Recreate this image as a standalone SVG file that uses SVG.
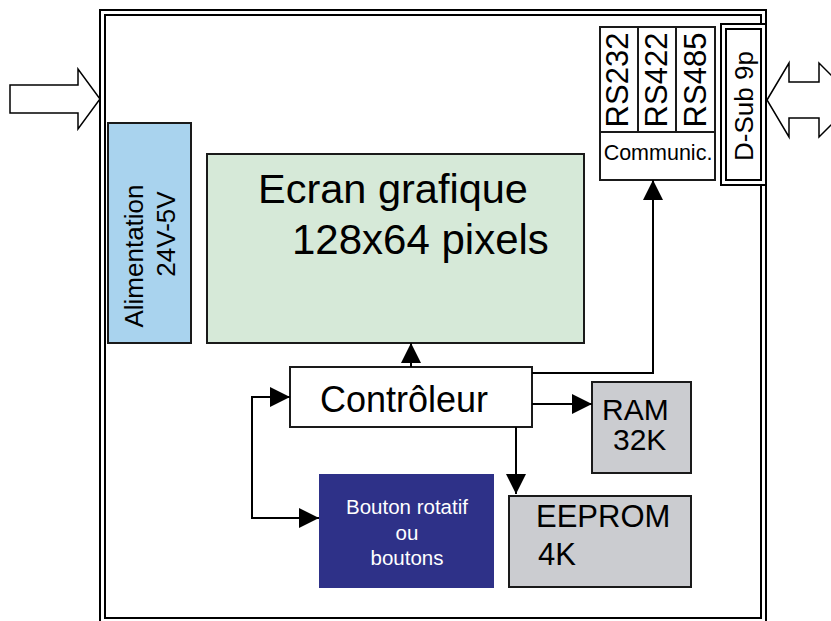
<svg xmlns="http://www.w3.org/2000/svg" width="831" height="621" viewBox="0 0 831 621">
  <defs>
    <marker id="tri" viewBox="0 0 20 20" refX="20" refY="10" markerWidth="20" markerHeight="20" markerUnits="userSpaceOnUse" orient="auto-start-reverse">
      <path d="M0,0 L20,10 L0,20 Z" fill="#000"/>
    </marker>
    <style>
      text { font-family: "Liberation Sans", Arial, sans-serif; fill: #000; }
      .box { stroke: #1a1a1a; stroke-width: 2; }
      .frame { fill: none; stroke: #000; stroke-width: 2; }
      .wire { fill: none; stroke: #000; stroke-width: 2; marker-end: url(#tri); }
      .block { fill: #fff; stroke: #000; stroke-width: 1.5; }
    </style>
  </defs>

  <rect width="831" height="621" fill="#fff"/>

  <!-- enclosure: double outline -->
  <g id="enclosure">
    <rect class="frame" x="100" y="10" width="666" height="612"/>
    <rect class="frame" x="105" y="15" width="656" height="603"/>
  </g>

  <!-- power input -->
  <g id="power-in">
    <polygon class="block" points="10,85 78,85 78,69 100,99 78,129 78,113 10,113"/>
  </g>

  <!-- serial link to the outside -->
  <g id="serial-io">
    <polygon class="block" points="767,100 789,63 789,82 819,82 819,63 856,100 819,137 819,118 789,118 789,137"/>
  </g>

  <g id="alimentation">
    <rect class="box" x="108" y="123" width="83" height="220" fill="#a9d3ee"/>
    <text transform="translate(143,256) rotate(-90)" font-size="26" text-anchor="middle">Alimentation</text>
    <text transform="translate(175,234) rotate(-90)" font-size="26" text-anchor="middle">24V-5V</text>
  </g>

  <g id="ecran">
    <rect class="box" x="207" y="154" width="377" height="189" fill="#d6e9d8"/>
    <text x="258" y="203" font-size="41.5">Ecran grafique</text>
    <text x="292" y="254" font-size="42">128x64 pixels</text>
  </g>

  <g id="communic">
    <rect class="box" x="600" y="27" width="38" height="105" fill="#fff"/>
    <rect class="box" x="638" y="27" width="38" height="105" fill="#fff"/>
    <rect class="box" x="676" y="27" width="39" height="105" fill="#fff"/>
    <rect class="box" x="600" y="132" width="115" height="48" fill="#fff"/>
    <text transform="translate(628,80) rotate(-90)" font-size="31" text-anchor="middle">RS232</text>
    <text transform="translate(667,80) rotate(-90)" font-size="31" text-anchor="middle">RS422</text>
    <text transform="translate(706,80) rotate(-90)" font-size="31" text-anchor="middle">RS485</text>
    <text x="658" y="160" font-size="21.5" text-anchor="middle">Communic.</text>
  </g>

  <g id="dsub">
    <rect x="721" y="24" width="45" height="161" fill="#fff" stroke="#000" stroke-width="2"/>
    <rect x="726" y="29" width="35" height="151" fill="#fff" stroke="#000" stroke-width="2"/>
    <text transform="translate(753,106) rotate(-90)" font-size="26" text-anchor="middle">D-Sub 9p</text>
  </g>

  <g id="controleur">
    <rect class="box" x="290" y="367" width="242" height="60" fill="#fff"/>
    <text x="320" y="412" font-size="36">Contrôleur</text>
  </g>

  <g id="ram">
    <rect class="box" x="592" y="382" width="99" height="91" fill="#cbccd0"/>
    <text x="602" y="420" font-size="30">RAM</text>
    <text x="613" y="450" font-size="30">32K</text>
  </g>

  <g id="eeprom">
    <rect class="box" x="509" y="496" width="182" height="91" fill="#cbccd0"/>
    <text x="536" y="527" font-size="31">EEPROM</text>
    <text x="538" y="565" font-size="31">4K</text>
  </g>

  <g id="boutons">
    <rect x="319" y="474" width="175" height="114" fill="#2e3188"/>
    <text x="407" y="514" font-size="20.5" text-anchor="middle" style="fill:#fff">Bouton rotatif</text>
    <text x="407" y="540" font-size="20.5" text-anchor="middle" style="fill:#fff">ou</text>
    <text x="407" y="565" font-size="20.5" text-anchor="middle" style="fill:#fff">boutons</text>
  </g>

  <!-- links from the controller -->
  <g id="connectors">
    <path class="wire" d="M411,367 V343"/>
    <path class="wire" d="M532,373 H653 V180"/>
    <path class="wire" d="M532,404 H592"/>
    <path class="wire" d="M516,427 V494"/>
    <path class="wire" d="M290,397 H252 V518 H319" style="marker-start:url(#tri)"/>
  </g>
</svg>
